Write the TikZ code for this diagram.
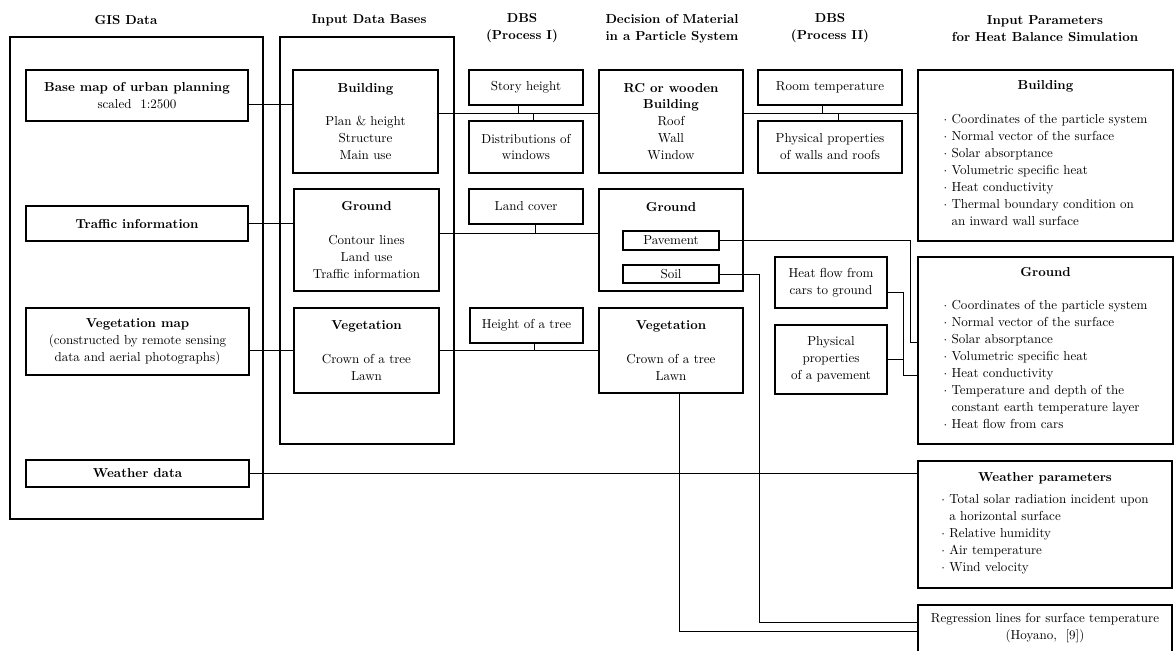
\documentclass[tikz,border=0pt]{standalone}
\usepackage{amsmath, amssymb}
\usepackage{tikz}
\usetikzlibrary{calc}

\newcommand{\itm}{$\cdot$\ }

\begin{document}
\begin{tikzpicture}[x=0.027cm, y=-0.027cm,
	font=\fontsize{10}{13}\selectfont,
	box/.style 2 args={draw, line width=0.9pt, minimum width=#1*0.027cm, minimum height=#2*0.027cm, inner sep=0pt, align=center},
	parbox/.style 2 args={box={#1}{#2}, line width=1.6pt},
	head/.style={font=\fontsize{10}{13}\selectfont\bfseries, align=center},
	link/.style={line width=0.6pt}]
			\useasboundingbox (0,0) rectangle (1175,650);

			\node[head] (gisHead) at (126,20) {GIS Data};
			\node[head] (idbHead) at (369,20) {Input Data Bases};
			\node[head] (dbsOneHead) at (522,28.5) {DBS\\(Process I)};
			\node[head] (decHead) at (672,28.5) {Decision of Material\\in a Particle System};
			\node[head] (dbsTwoHead) at (830,28.5) {DBS\\(Process II)};
			\node[head] (parHead) at (1045,28.5) {Input Parameters\\for Heat Balance Simulation};

			\node[box={253}{482}] (gisGroup) at (136.5,278) {};
			\node[box={174}{407}] (idbGroup) at (367,240.5) {};

			\node[box={222}{51}] (basemap) at (137,95.5) {\textbf{Base map of urban planning}\\scaled\ \ 1:2500};
			\node[box={222}{35}] (traffic) at (137,223.5) {\textbf{Traffic information}};
			\node[box={223}{67}] (vegmap) at (137.5,341.5) {\textbf{Vegetation map}\\(constructed by remote sensing\\data and aerial photographs)};
			\node[box={223}{27}] (weather) at (137.5,473.5) {\textbf{Weather data}};

			\node[box={145}{103}] (idbBuilding) at (365.5,121.5) {\textbf{Building}\\[0.43cm]Plan \& height\\Structure\\Main use};
			\node[box={145}{102}] (idbGround) at (366.5,240) {\textbf{Ground}\\[0.48cm]Contour lines\\Land use\\Traffic information};
			\node[box={145}{85}] (idbVeg) at (366.5,350.5) {\textbf{Vegetation}\\[0.46cm]Crown of a tree\\Lawn};

			\node[box={114}{35}] (story) at (526,87.5) {Story height};
			\node[box={114}{52}] (windows) at (526,147) {Distributions of\\windows};
			\node[box={114}{35}] (landcover) at (526,206.5) {Land cover};
			\node[box={113}{35}] (treeheight) at (526.5,325.5) {Height of a tree};

			\node[box={144}{103}] (decBuilding) at (671,121.5) {\textbf{RC or wooden}\\\textbf{Building}\\Roof\\Wall\\Window};
			\node[box={144}{102}] (decGround) at (671,240) {};
			\node[font=\fontsize{10}{13}\selectfont\bfseries] (decGroundTitle) at (671,207) {Ground};
			\node[box={96}{19}] (pavement) at (671,240.5) {Pavement};
			\node[box={96}{18}] (soil) at (671,274) {Soil};
			\node[box={144}{85}] (decVeg) at (671,350.5) {\textbf{Vegetation}\\[0.46cm]Crown of a tree\\Lawn};

			\node[box={144}{35}] (roomtemp) at (830,87.5) {Room temperature};
			\node[box={144}{52}] (physwall) at (830,147) {Physical properties\\of walls and roofs};
			\node[box={112}{51}] (heatflow) at (831,282.5) {Heat flow from\\cars to ground};
			\node[box={112}{69}] (physpav) at (831,359.5) {Physical\\properties\\of a pavement};

			\node[parbox={255}{171}] (parBuilding) at (1045.5,155.5) {\textbf{Building}\\[0.46cm]\begin{tabular}[t]{@{}l@{}}
				\itm Coordinates of the particle system\\
				\itm Normal vector of the surface\\
				\itm Solar absorptance\\
				\itm Volumetric specific heat\\
				\itm Heat conductivity\\
				\itm Thermal boundary condition on\\
				\hphantom{\itm}an inward wall surface
			\end{tabular}};
			\node[parbox={255}{187}] (parGround) at (1045.5,350.5) {\textbf{Ground}\\[0.43cm]\begin{tabular}[t]{@{}l@{}}
				\itm Coordinates of the particle system\\
				\itm Normal vector of the surface\\
				\itm Solar absorptance\\
				\itm Volumetric specific heat\\
				\itm Heat conductivity\\
				\itm Temperature and depth of the\\
				\hphantom{\itm}constant earth temperature layer\\
				\itm Heat flow from cars
			\end{tabular}};
			\node[parbox={254}{127}] (parWeather) at (1045,524.5) {\textbf{Weather parameters}\\[0.12cm]\begin{tabular}[t]{@{}l@{}}
				\itm Total solar radiation incident upon\\
				\hphantom{\itm}a horizontal surface\\
				\itm Relative humidity\\
				\itm Air temperature\\
				\itm Wind velocity
			\end{tabular}};
			\node[parbox={254}{70}] (regression) at (1045,640) {};
			\node[align=center] (regressionText) at (1045,628) {Regression lines for surface temperature\\(Hoyano,\ \ [9])};

			\coordinate (jA) at (0,104);
			\coordinate (jS) at (518,113);
			\coordinate (jW) at (533,113);
			\coordinate (jR) at (822,113);
			\coordinate (jP) at (838,113);
			\coordinate (jL) at (535,233);
			\coordinate (jH) at (534,350.5);
			\coordinate (jF) at (903,292);
			\coordinate (kHeat) at (903,375);
			\coordinate (kPav) at (910,342);
			\coordinate (kSoil) at (759,622);
			\coordinate (kVeg) at (679,631);

			\draw[link] (basemap.east |- jA) -- (idbBuilding.west |- jA);
			\draw[link] (idbBuilding.east |- jS) -- (decBuilding.west |- jS);
			\draw[link] (story.south -| jS) -- (jS);
			\draw[link] (windows.north -| jW) -- (jW);
			\draw[link] (decBuilding.east |- jR) -- (parBuilding.west |- jR);
			\draw[link] (roomtemp.south -| jR) -- (jR);
			\draw[link] (physwall.north -| jP) -- (jP);
			\draw[link] (traffic.east) -- (idbGround.west |- traffic.east);
			\draw[link] (idbGround.east |- jL) -- (decGround.west |- jL);
			\draw[link] (landcover.south -| jL) -- (jL);
			\draw[link] (pavement.east) -| (kPav) -- (parGround.west |- kPav);
			\draw[link] (soil.east) -| (kSoil) -- (regression.west |- kSoil);
			\draw[link] (heatflow.east |- jF) -- (jF) -- (kHeat) -- (parGround.west |- kHeat);
			\draw[link] (physpav.east) -- (kHeat |- physpav.east);
			\draw[link] (vegmap.east |- jH) -- (idbVeg.west |- jH);
			\draw[link] (idbVeg.east |- jH) -- (decVeg.west |- jH);
			\draw[link] (treeheight.south -| jH) -- (jH);
			\draw[link] (decVeg.south -| kVeg) -- (kVeg) -- (regression.west |- kVeg);
			\draw[link] (weather.east) -- (parWeather.west |- weather.east);
\end{tikzpicture}
\end{document}
